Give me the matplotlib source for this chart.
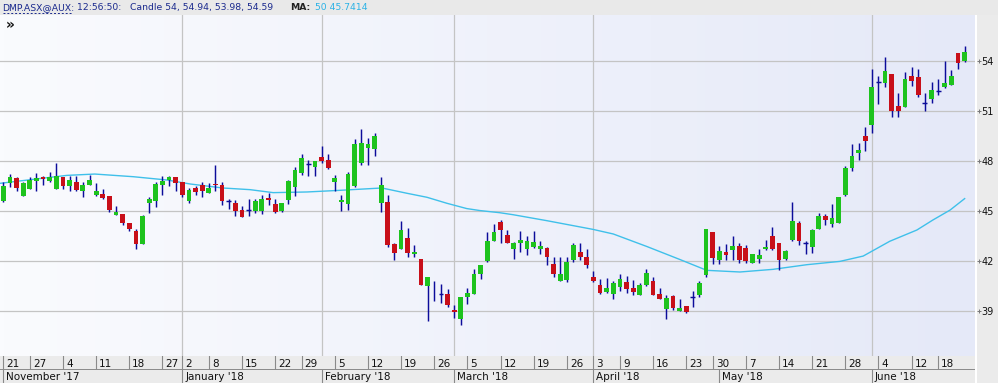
import matplotlib
matplotlib.use("Agg")
import matplotlib.pyplot as plt
import matplotlib.transforms as mtransforms
import numpy as np
from matplotlib.colors import LinearSegmentedColormap
from matplotlib.patches import Rectangle

# ── Daily candles, DMP.ASX, 21 Nov 2017 → 22 Jun 2018 ───────────────────────
OPEN = [45.62, 46.70, 46.98, 45.92, 46.34, 46.82, 47.02, 46.78, 46.34, 47.02,
        46.52, 46.74, 46.22, 46.58, 45.98, 46.02, 45.90, 44.77, 44.81, 44.29,
        43.81, 43.01, 45.50, 45.62, 46.58, 46.86, 47.02, 46.72, 45.62, 46.38,
        46.54, 46.10, 46.62, 46.54, 45.58, 45.46, 45.05, 45.05, 44.99, 44.99,
        45.78, 45.42, 44.99, 45.66, 46.46, 47.26, 47.85, 47.66, 48.27, 48.07,
        46.74, 45.54, 45.42, 46.50, 47.87, 48.79, 48.75, 45.50, 45.54, 43.00,
        42.69, 43.37, 42.40, 42.08, 40.50, 40.02, 39.99, 39.99, 39.03, 38.51,
        39.79, 39.99, 41.20, 42.00, 43.21, 44.33, 43.57, 42.69, 43.05, 42.73,
        42.81, 42.69, 42.77, 41.80, 40.80, 40.84, 42.04, 42.52, 42.20, 41.00,
        40.52, 40.12, 39.99, 40.44, 40.72, 40.36, 39.95, 40.56, 40.76, 39.99,
        39.07, 39.87, 38.99, 39.27, 39.83, 39.91, 41.14, 43.73, 42.06, 42.52,
        42.64, 42.88, 42.76, 41.88, 42.08, 42.72, 43.49, 43.09, 42.08, 43.25,
        44.25, 43.05, 42.80, 43.93, 44.69, 44.21, 44.29, 45.98, 47.60, 48.51,
        49.51, 50.20, 52.79, 52.69, 53.25, 51.32, 51.24, 53.13, 53.05, 51.52,
        51.76, 52.22, 52.48, 52.60, 54.53, 54.00]
HIGH = [46.76, 47.22, 47.02, 46.76, 47.06, 47.26, 47.10, 47.32, 47.87, 47.06,
        47.10, 47.10, 46.76, 47.16, 46.66, 46.34, 45.90, 45.29, 44.81, 44.29,
        43.93, 44.77, 45.86, 46.76, 47.10, 47.10, 47.06, 46.74, 46.36, 46.50,
        46.74, 46.66, 47.77, 46.74, 45.74, 45.66, 45.29, 45.74, 45.74, 45.98,
        46.10, 45.70, 45.46, 46.86, 47.66, 48.43, 48.07, 47.99, 48.91, 48.43,
        47.16, 45.94, 47.34, 49.31, 49.91, 49.37, 49.71, 47.02, 45.98, 43.09,
        44.37, 43.97, 42.93, 42.12, 41.00, 40.80, 40.60, 40.28, 39.31, 39.79,
        40.35, 41.48, 41.74, 43.73, 44.21, 44.45, 43.85, 43.13, 43.77, 43.49,
        43.77, 43.17, 42.85, 42.24, 42.24, 42.24, 43.05, 43.05, 42.68, 41.36,
        40.88, 40.96, 40.80, 41.20, 41.08, 40.84, 40.68, 41.48, 41.00, 40.36,
        39.95, 39.95, 39.71, 39.27, 40.20, 40.76, 43.89, 43.73, 42.88, 43.00,
        43.50, 43.05, 42.92, 42.40, 42.68, 43.25, 44.05, 43.09, 42.64, 45.53,
        44.37, 43.17, 43.93, 44.85, 44.81, 45.41, 45.86, 47.70, 49.00, 49.11,
        50.04, 53.53, 53.13, 54.25, 53.25, 52.12, 53.37, 53.65, 53.53, 52.08,
        52.77, 52.93, 54.05, 53.49, 54.53, 54.94]
LOW = [45.52, 46.46, 46.22, 45.92, 46.34, 46.18, 46.54, 46.74, 46.34, 46.30,
       46.22, 46.22, 45.86, 46.54, 45.90, 45.74, 44.95, 44.73, 44.13, 43.81,
       42.69, 43.01, 44.85, 45.25, 45.94, 46.50, 46.22, 45.82, 45.50, 45.94,
       45.82, 46.06, 46.22, 45.38, 45.13, 44.71, 44.65, 44.71, 44.85, 44.83,
       45.38, 44.89, 44.95, 45.42, 45.90, 47.16, 47.12, 47.10, 47.91, 47.54,
       46.18, 45.01, 45.05, 46.46, 47.75, 47.79, 48.31, 44.95, 42.80, 42.04,
       42.69, 42.20, 42.24, 40.52, 38.39, 39.55, 39.47, 39.23, 38.53, 38.11,
       39.39, 39.99, 40.88, 41.94, 43.17, 43.09, 43.05, 42.12, 42.55, 42.32,
       42.77, 42.40, 41.76, 41.00, 40.76, 40.72, 41.92, 42.04, 41.56, 40.72,
       39.99, 40.08, 39.71, 40.20, 40.08, 39.95, 39.95, 40.48, 39.91, 39.67,
       38.51, 39.03, 38.95, 38.83, 39.23, 39.83, 41.00, 41.82, 41.78, 42.02,
       42.04, 41.84, 41.84, 41.84, 41.88, 42.64, 42.64, 41.44, 42.04, 43.21,
       42.96, 42.40, 42.44, 43.89, 44.17, 44.05, 44.29, 45.90, 47.40, 48.07,
       48.63, 49.67, 51.44, 52.48, 50.64, 50.64, 51.24, 52.52, 51.84, 51.04,
       51.48, 51.96, 52.40, 52.60, 53.53, 53.98]
CLOSE = [46.50, 47.02, 46.36, 46.70, 46.86, 46.98, 46.90, 47.02, 47.10, 46.52,
         46.86, 46.26, 46.58, 46.86, 46.22, 45.78, 45.05, 44.93, 44.29, 43.89,
         43.01, 44.69, 45.70, 46.62, 46.82, 47.02, 46.70, 45.98, 46.26, 46.14,
         46.22, 46.38, 46.54, 45.62, 45.58, 45.01, 44.65, 45.05, 45.60, 45.72,
         45.66, 44.93, 45.46, 46.80, 47.46, 48.19, 47.85, 47.99, 47.99, 47.58,
         46.98, 45.66, 47.22, 49.03, 49.11, 49.03, 49.51, 46.56, 42.95, 42.48,
         43.85, 42.48, 42.52, 40.56, 41.00, 40.00, 39.99, 39.35, 38.93, 39.79,
         40.07, 41.20, 41.74, 43.17, 43.73, 43.85, 43.09, 43.09, 43.25, 43.21,
         43.13, 42.89, 42.24, 41.20, 41.20, 41.92, 42.93, 42.24, 41.72, 40.80,
         40.08, 40.36, 40.68, 40.92, 40.32, 40.12, 40.52, 41.28, 39.95, 39.71,
         39.75, 39.15, 39.15, 38.91, 39.83, 40.68, 43.89, 42.18, 42.58, 42.36,
         42.88, 42.04, 41.96, 42.40, 42.36, 42.82, 42.68, 42.04, 42.60, 44.37,
         43.21, 43.05, 43.85, 44.69, 44.45, 44.57, 45.86, 47.60, 48.30, 48.67,
         49.23, 52.44, 52.79, 53.41, 51.04, 51.00, 52.93, 52.81, 51.96, 51.52,
         52.28, 52.22, 52.69, 53.13, 53.89, 54.59]

# 50-day moving average at candle positions
MA_IDX = [-0.5, 4.5, 9.6, 13.8, 19.6, 24.7, 28.2, 33.1, 37.2, 40.7, 45.8, 50.8,
          55.3, 57.1, 58.3, 60.9, 63.9, 66.9, 69.9, 71.9, 74.9, 76.9, 82.0,
          88.9, 92.0, 97.1, 102.0, 106.1, 111.1, 116.1, 121.2, 126.2, 129.7,
          133.7, 137.8, 140.2, 142.8, 145.0]
MA_VAL = [46.66, 46.90, 47.14, 47.22, 47.06, 46.86, 46.62, 46.38, 46.28, 46.10,
          46.14, 46.24, 46.34, 46.38, 46.28, 46.06, 45.82, 45.46, 45.14, 45.02,
          44.89, 44.77, 44.41, 43.89, 43.61, 42.85, 42.08, 41.42, 41.32, 41.48,
          41.76, 41.96, 42.28, 43.17, 43.85, 44.45, 45.05, 45.74]

# Axis labelling (candle index of each tick)
DAY_IDX = [0, 4, 9, 14, 19, 24, 27, 31, 36, 41, 45, 50, 55, 60, 65, 70, 75, 80,
           85, 89, 93, 98, 103, 107, 112, 117, 122, 127, 132, 137, 141]
DAY_LABELS = ["21", "27", "4", "11", "18", "27", "2", "8", "15", "22", "29",
              "5", "12", "19", "26", "5", "12", "19", "26", "3", "9", "16",
              "23", "30", "7", "14", "21", "28", "4", "12", "18"]
MONTH_IDX = [0, 27, 48, 68, 89, 108, 131]
MONTH_LABELS = ["November '17", "January '18", "February '18", "March '18",
                "April '18", "May '18", "June '18"]
GRID_MONTHS = [27, 48, 68, 89, 131]
Y_TICKS = [39, 42, 45, 48, 51, 54]

# ── Style ───────────────────────────────────────────────────────────────────
W, H = 998, 383
PLOT_TOP, PLOT_BOT, PLOT_RIGHT = 15, 356, 975
UP = "#1ec31e"
DOWN = "#c80f19"
WICK = "#0c0c9a"
MA_C = "#3fc0ea"
GRID = "#c4c4c4"
PANEL = "#ebebeb"
XLIM = (-0.5, 146.56)
YLIM = (36.26, 56.80)
FS = 7.5

plt.rcParams["font.family"] = "DejaVu Sans"
fig = plt.figure(figsize=(W / 100, H / 100), dpi=100)
fig.patch.set_facecolor(PANEL)

# header band
fig.patches.append(Rectangle((0, 1 - PLOT_TOP / H), 1, PLOT_TOP / H,
                             transform=fig.transFigure, fc="#e9e9e9",
                             ec="none", zorder=-5))
# thin white rule left of the price scale
fig.patches.append(Rectangle((PLOT_RIGHT / W, 0), 2 / W, 1 - PLOT_TOP / H,
                             transform=fig.transFigure, fc="white",
                             ec="none", zorder=-5))

ax = fig.add_axes([0, 1 - PLOT_BOT / H, PLOT_RIGHT / W, (PLOT_BOT - PLOT_TOP) / H])
ax.set_xlim(*XLIM)
ax.set_ylim(*YLIM)

# soft left→right gradient background
cmap = LinearSegmentedColormap.from_list("bg", ["#fafbfe", "#e5e9f8"])
ax.imshow(np.linspace(0, 1, 256)[None, :], cmap=cmap, aspect="auto",
          extent=[*XLIM, *YLIM], zorder=0)

for y in Y_TICKS:
    ax.axhline(y, color=GRID, lw=0.9, zorder=1)
for m in GRID_MONTHS:
    ax.axvline(m, color=GRID, lw=0.9, zorder=1)

x = np.arange(len(OPEN))
o, h, l, c = map(np.asarray, (OPEN, HIGH, LOW, CLOSE))
ax.vlines(x, l, h, color=WICK, lw=1.05, zorder=3)
up = c > o
dn = c < o
bw = 0.72
ax.bar(x[up], (c - o)[up], bottom=o[up], width=bw, color=UP, zorder=4)
ax.bar(x[dn], (o - c)[dn], bottom=c[dn], width=bw, color=DOWN, zorder=4)
doji = ~(up | dn)
ax.hlines(o[doji], x[doji] - bw / 2, x[doji] + bw / 2, color=WICK, lw=1.05,
          zorder=4)

ax.plot(MA_IDX, MA_VAL, color=MA_C, lw=1.0, zorder=2)

# price scale on the right with small "+" markers
ax.yaxis.tick_right()
ax.set_yticks(Y_TICKS)
ax.set_yticklabels([str(v) for v in Y_TICKS])
ax.tick_params(axis="y", length=0, pad=4.5, labelsize=7, labelcolor="#111111")
trans = mtransforms.blended_transform_factory(ax.transAxes, ax.transData)
ax.plot([1 + 3.5 / PLOT_RIGHT] * len(Y_TICKS), Y_TICKS, ls="none", marker="+",
        ms=3.5, mew=0.7, color="#777777", transform=trans, clip_on=False)
ax.set_xticks([])
for s in ax.spines.values():
    s.set_visible(False)

fig.text(6 / W, 1 - 25 / H, "»", fontsize=10, fontweight="bold",
         va="center", ha="left", color="#111111")

# header texts
hy = 1 - 7.5 / H
HFS = 6.7
NAVY = "#1b2a8e"
fig.text(2 / W, hy, "DMP.ASX@AUX:", color=NAVY, fontsize=HFS, va="center")
fig.add_artist(plt.Line2D([3 / W, 72 / W], [1 - 13 / H] * 2, color=NAVY,
                          lw=0.7, ls=(0, (2, 2)), transform=fig.transFigure))
fig.text(77 / W, hy, "12:56:50:", color=NAVY, fontsize=HFS, va="center")
fig.text(130 / W, hy, "Candle 54, 54.94, 53.98, 54.59", color=NAVY,
         fontsize=HFS, va="center")
fig.text(290 / W, hy, "MA:", color="#222222", fontsize=HFS, va="center",
         fontweight="bold")
fig.text(315 / W, hy, "50 45.7414", color="#2bb2e6", fontsize=HFS, va="center")

# day row and month row under the plot
ax_d = fig.add_axes([0, 1 - 370 / H, PLOT_RIGHT / W, 14 / H])
ax_m = fig.add_axes([0, 0, PLOT_RIGHT / W, 13 / H])
for a in (ax_d, ax_m):
    a.set_xlim(*XLIM)
    a.set_ylim(0, 1)
    a.set_facecolor(PANEL)
    a.set_xticks([])
    a.set_yticks([])
    for s in a.spines.values():
        s.set_visible(False)
ax_d.axhline(0, color="#7a7a7a", lw=1.2)

for i, lab in zip(DAY_IDX, DAY_LABELS):
    ax_d.axvline(i, color="#8a8a8a", lw=0.8)
    ax_d.text(i + 0.45, 0.45, lab, fontsize=FS, va="center", ha="left",
              color="#111111")
for i, lab in zip(MONTH_IDX, MONTH_LABELS):
    ax_m.axvline(i, color="#8a8a8a", lw=0.8)
    ax_m.text(i + 0.45, 0.5, lab, fontsize=FS, va="center", ha="left",
              color="#111111")

fig.savefig("out.png", dpi=100, facecolor=PANEL)
